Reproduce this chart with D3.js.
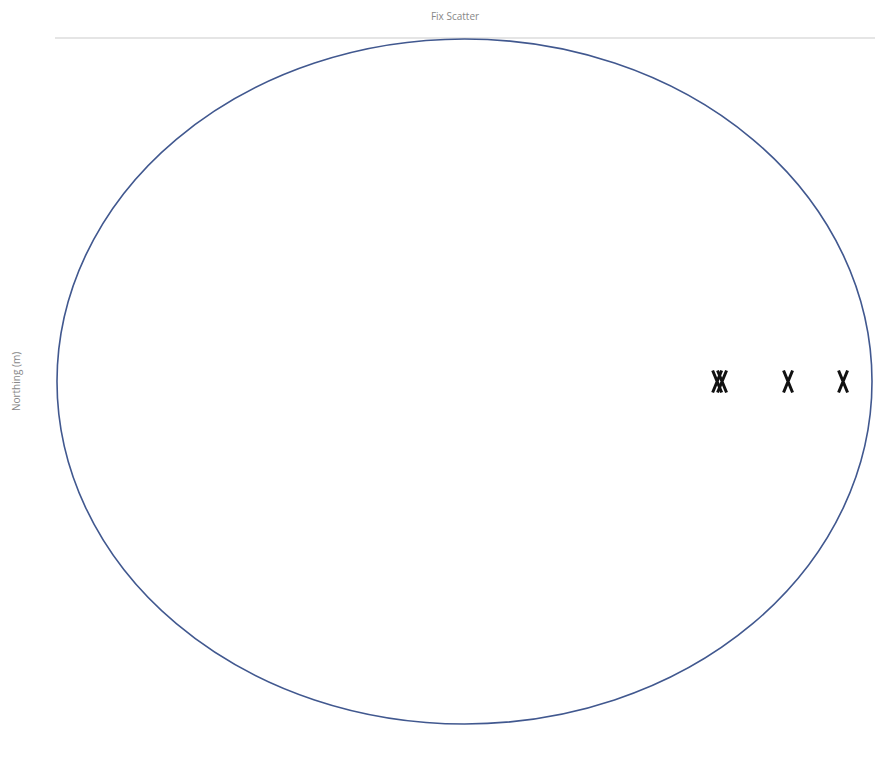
<!DOCTYPE html>
<html>
<head>
<meta charset="utf-8">
<script src="https://cdnjs.cloudflare.com/ajax/libs/d3/7.8.5/d3.min.js"></script>
<style>
  body { margin: 0; background: #fff; }
  text { font-family: "Open Sans", "DejaVu Sans", sans-serif; }
</style>
</head>
<body>
<div id="chart"></div>
<script>
// chart values
const chartTitle = 'Fix Scatter';
const yLabel = 'Northing (m)';
const xDomain = [-10, 10];
const yDomain = [-10, 10];
const ringCenter = [0, 0];
const ringRadius = [10, 10];
const fixEast = [6.2, 6.32, 7.94, 9.29];
const fixNorth = [0, 0, 0, 0];

const width = 875, height = 758;
const margin = { top: 39, right: 3, bottom: 34, left: 57 };

let svg = d3.select('#chart').append('svg')
  .attr('width', width)
  .attr('height', height);

let x = d3.scaleLinear().domain(xDomain).range([margin.left, width - margin.right]);
let y = d3.scaleLinear().domain(yDomain).range([height - margin.bottom, margin.top]);

// top border of plot area
svg.append('line')
  .attr('x1', margin.left - 2)
  .attr('x2', width)
  .attr('y1', margin.top - 1)
  .attr('y2', margin.top - 1)
  .style('stroke', '#dcdcdc')
  .style('stroke-width', 1.5);

svg.append('text')
  .attr('x', 455)
  .attr('y', 20)
  .attr('text-anchor', 'middle')
  .style('font-size', '10px')
  .style('fill', '#888')
  .text(chartTitle);

svg.append('text')
  .attr('transform', 'translate(20,' + ((margin.top + height - margin.bottom) / 2) + ') rotate(-90)')
  .attr('text-anchor', 'middle')
  .style('font-size', '10px')
  .style('fill', '#888')
  .text(yLabel);

// accuracy ring
svg.append('ellipse')
  .attr('cx', x(ringCenter[0]))
  .attr('cy', y(ringCenter[1]))
  .attr('rx', x(ringCenter[0] + ringRadius[0]) - x(ringCenter[0]))
  .attr('ry', y(ringCenter[1]) - y(ringCenter[1] + ringRadius[1]))
  .style('fill', 'none')
  .style('stroke', '#41588f')
  .style('stroke-width', 1.6);

// fixes drawn as X marks
let fixes = fixEast.map((e, i) => ({ e: e, n: fixNorth[i] }));
svg.append('g').attr('class', 'fixes')
  .selectAll('path')
  .data(fixes)
  .enter().append('path')
    .attr('transform', d => 'translate(' + x(d.e) + ',' + y(d.n) + ')')
    .attr('d', 'M-4.5,-11 L4.5,11 M4.5,-11 L-4.5,11')
    .style('fill', 'none')
    .style('stroke', '#111')
    .style('stroke-width', 3);
</script>
</body>
</html>
